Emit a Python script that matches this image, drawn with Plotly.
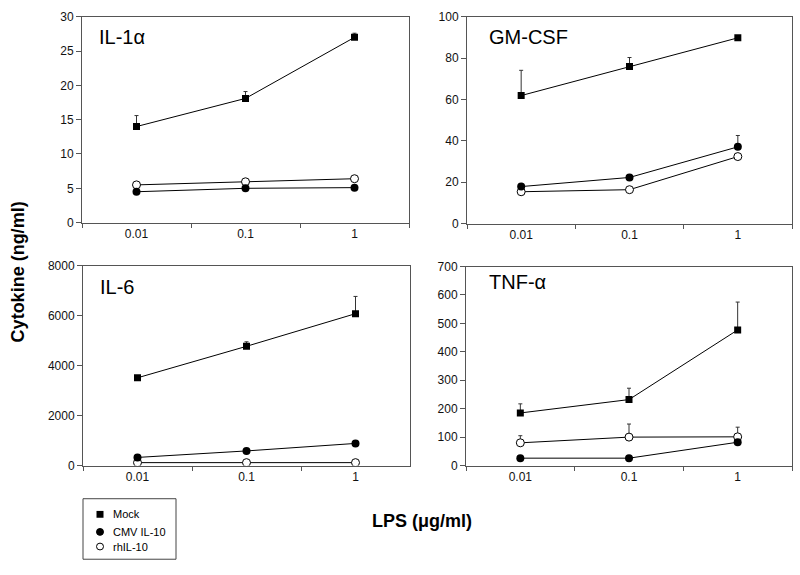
import plotly.graph_objects as go

lps = ["0.01", "0.1", "1"]

# IL-1alpha (ng/ml)
il1_mock = [14.0, 18.1, 27.0]
il1_mock_err = [1.6, 1.0, 0.6]
il1_cmv = [4.5, 5.0, 5.1]
il1_rh = [5.5, 5.95, 6.4]

# GM-CSF
gm_mock = [61.9, 75.9, 89.8]
gm_mock_err = [12.2, 4.4, 0.5]
gm_cmv = [17.9, 22.3, 37.1]
gm_cmv_err = [0, 0, 5.5]
gm_rh = [15.4, 16.4, 32.4]

# IL-6
il6_mock = [3510, 4770, 6075]
il6_mock_err = [0, 180, 690]
il6_cmv = [325, 585, 885]
il6_rh = [117, 117, 117]

# TNF-alpha
tnf_mock = [185, 232, 477]
tnf_mock_err = [32, 40, 98]
tnf_cmv = [26, 26, 82]
tnf_rh = [80, 100, 101]
tnf_rh_err = [25, 46, 34]

legend_names = ["Mock", "CMV IL-10", "rhIL-10"]

panels = [
    dict(name="IL-1α", mock=il1_mock, mock_err=il1_mock_err, cmv=il1_cmv, cmv_err=None,
         rh=il1_rh, rh_err=None, yr=[0, 30], dt=5,
         px=(82, 409), py=(10, 221), lab=(97, 31)),
    dict(name="GM-CSF", mock=gm_mock, mock_err=gm_mock_err, cmv=gm_cmv, cmv_err=gm_cmv_err,
         rh=gm_rh, rh_err=None, yr=[0, 100], dt=20,
         px=(467, 792), py=(10, 222), lab=(487, 31)),
    dict(name="IL-6", mock=il6_mock, mock_err=il6_mock_err, cmv=il6_cmv, cmv_err=None,
         rh=il6_rh, rh_err=None, yr=[0, 8000], dt=2000,
         px=(83, 410), py=(265, 470), lab=(98, 287)),
    dict(name="TNF-α", mock=tnf_mock, mock_err=tnf_mock_err, cmv=tnf_cmv, cmv_err=None,
         rh=tnf_rh, rh_err=tnf_rh_err, yr=[0, 700], dt=100,
         px=(466, 792), py=(266, 470), lab=(487, 282)),
]

W, H = 800, 575
fig = go.Figure()
layout = {}
annotations = []
shapes = []

def err(arr):
    if arr is None:
        return None
    return dict(type="data", symmetric=False, array=arr, arrayminus=[0] * len(arr),
                color="#333333", thickness=1, width=2)

for i, p in enumerate(panels):
    n = i + 1
    xa = "x" if n == 1 else f"x{n}"
    ya = "y" if n == 1 else f"y{n}"
    common = dict(xaxis=xa, yaxis=ya, showlegend=False, line=dict(color="black", width=1))
    fig.add_trace(go.Scatter(x=lps, y=p["rh"], mode="lines+markers", name=legend_names[2],
                             marker=dict(symbol="circle", size=8, color="white",
                                         line=dict(color="black", width=1)),
                             error_y=err(p["rh_err"]), **common))
    fig.add_trace(go.Scatter(x=lps, y=p["cmv"], mode="lines+markers", name=legend_names[1],
                             marker=dict(symbol="circle", size=8, color="black"),
                             error_y=err(p["cmv_err"]), **common))
    fig.add_trace(go.Scatter(x=lps, y=p["mock"], mode="lines+markers", name=legend_names[0],
                             marker=dict(symbol="square", size=7, color="black"),
                             error_y=err(p["mock_err"]), **common))
    xk = "xaxis" if n == 1 else f"xaxis{n}"
    yk = "yaxis" if n == 1 else f"yaxis{n}"
    layout[xk] = dict(domain=[p["px"][0] / W, p["px"][1] / W], anchor=ya,
                      type="category", categoryorder="array", categoryarray=lps,
                      range=[-0.5, 2.5], tickson="boundaries", ticks="outside", ticklen=4,
                      tickcolor="#555", showline=True, linecolor="#555", linewidth=1,
                      mirror=True, showgrid=False, zeroline=False,
                      tickfont=dict(size=12, color="#111"))
    layout[yk] = dict(domain=[1 - p["py"][1] / H, 1 - p["py"][0] / H], anchor=xa,
                      range=p["yr"], dtick=p["dt"], tick0=0, ticks="outside", ticklen=5,
                      tickcolor="#555", showline=True, linecolor="#555", linewidth=1,
                      mirror=True, showgrid=False, zeroline=False,
                      tickfont=dict(size=12, color="#111"))
    annotations.append(dict(text=p["name"], xref="paper", yref="paper",
                            x=p["lab"][0] / W, y=1 - p["lab"][1] / H,
                            xanchor="left", yanchor="middle", showarrow=False,
                            font=dict(size=20, color="black")))

annotations.append(dict(text="<b>Cytokine (ng/ml)</b>", xref="paper", yref="paper",
                        x=18 / W, y=1 - 272 / H, textangle=-90, showarrow=False,
                        xanchor="center", yanchor="middle",
                        font=dict(size=18, color="black")))
annotations.append(dict(text="<b>LPS (μg/ml)</b>", xref="paper", yref="paper",
                        x=422 / W, y=1 - 527 / H, showarrow=False,
                        xanchor="center", yanchor="middle",
                        font=dict(size=18, color="black")))

def px2x(v):
    return v / W

def px2y(v):
    return 1 - v / H

# manual legend box
shapes.append(dict(type="rect", xref="paper", yref="paper",
                   x0=px2x(83), x1=px2x(176), y0=px2y(566), y1=px2y(504),
                   line=dict(color="#444", width=1), fillcolor="white"))
rows = [520, 538, 553]
mx = 100
shapes.append(dict(type="rect", xref="paper", yref="paper",
                   x0=px2x(mx - 3.5), x1=px2x(mx + 3.5), y0=px2y(rows[0] + 3.5), y1=px2y(rows[0] - 3.5),
                   line=dict(color="black", width=0), fillcolor="black"))
shapes.append(dict(type="circle", xref="paper", yref="paper",
                   x0=px2x(mx - 3.5), x1=px2x(mx + 3.5), y0=px2y(rows[1] + 3.5), y1=px2y(rows[1] - 3.5),
                   line=dict(color="black", width=1), fillcolor="black"))
shapes.append(dict(type="circle", xref="paper", yref="paper",
                   x0=px2x(mx - 3.5), x1=px2x(mx + 3.5), y0=px2y(rows[2] + 3.5), y1=px2y(rows[2] - 3.5),
                   line=dict(color="black", width=1), fillcolor="white"))
for name, r in zip(legend_names, rows):
    annotations.append(dict(text=name, xref="paper", yref="paper",
                            x=px2x(111), y=px2y(r), xanchor="left", yanchor="middle",
                            showarrow=False, font=dict(size=11, color="black")))

fig.update_layout(
    width=W, height=H, margin=dict(l=0, r=0, t=0, b=0),
    paper_bgcolor="white", plot_bgcolor="white",
    font=dict(family="Liberation Sans, Arial, sans-serif", color="black"),
    annotations=annotations, shapes=shapes,
    showlegend=False,
    **layout,
)

fig.write_html("out.html", config={"displayModeBar": False},
               post_script="document.body.style.margin='0';document.body.style.overflow='hidden';")
